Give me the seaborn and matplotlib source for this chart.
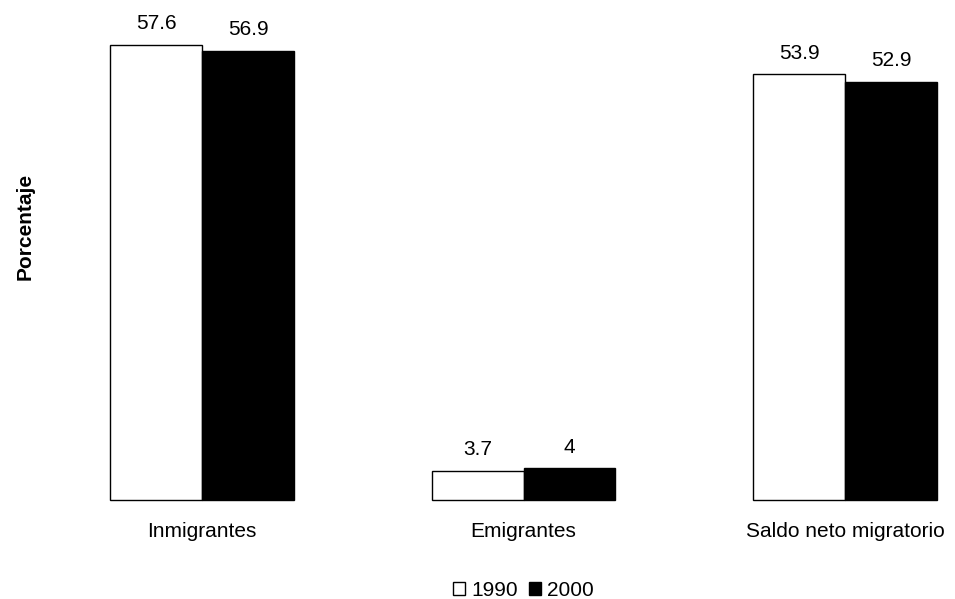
import pandas as pd
import seaborn as sns
import matplotlib.pyplot as plt

categorias = ['Inmigrantes', 'Emigrantes', 'Saldo neto migratorio']
anios = ['1990', '2000']
valores_1990 = [57.6, 3.7, 53.9]
valores_2000 = [56.9, 4.0, 52.9]
etiquetas_1990 = ['57.6', '3.7', '53.9']
etiquetas_2000 = ['56.9', '4', '52.9']

df = pd.DataFrame({
    'categoria': categorias * 2,
    'anio': [anios[0]] * 3 + [anios[1]] * 3,
    'valor': valores_1990 + valores_2000,
})

sns.set_style('white')
plt.rcParams['font.family'] = ['Liberation Sans', 'DejaVu Sans']
plt.rcParams['text.color'] = 'black'
plt.rcParams['xtick.color'] = 'black'
plt.rcParams['axes.labelcolor'] = 'black'

fig = plt.figure(figsize=(9.55, 5.99), dpi=100)
ax = fig.add_axes([0.0937, 0.1653, 0.9056, 0.791])

sns.barplot(data=df, x='categoria', y='valor', hue='anio', order=categorias,
            hue_order=anios, palette=['white', 'black'], width=0.572,
            edgecolor='black', linewidth=1, ax=ax)
for p in ax.patches:
    p.set_clip_on(False)

# value labels
for cont, labs in zip(ax.containers, [etiquetas_1990, etiquetas_2000]):
    ax.bar_label(cont, labels=labs, padding=8.5, fontsize=15)

ax.set_xlim(-0.35, 2.34)
ax.set_ylim(0, 60)
for s in ax.spines.values():
    s.set_visible(False)
ax.set_yticks([])
ax.tick_params(axis='x', length=0, pad=16, labelsize=15)
ax.set_xlabel('')
ax.set_ylabel('Porcentaje', fontsize=15, fontweight='bold')
ax.yaxis.set_label_coords(-0.063, 0.578)

ax.legend(loc='center', bbox_to_anchor=(0.502, -0.19), ncol=2, frameon=False,
          fontsize=15, handlelength=0.58, handleheight=0.58, handletextpad=0.3,
          columnspacing=0.5, borderpad=0)

fig.savefig('out.png', dpi=100)
